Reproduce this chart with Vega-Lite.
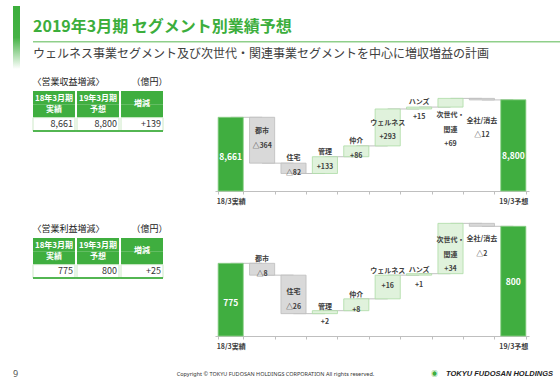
{
  "$schema": "https://vega.github.io/schema/vega-lite/v6.json",
  "background": "white",
  "padding": {"left": 13, "top": 0, "right": 0, "bottom": 0},
  "config": {
    "view": {"stroke": null},
    "font": "Noto Sans CJK JP",
    "title": {"font": "Noto Sans CJK JP"},
    "text": {"font": "Noto Sans CJK JP"}
  },
  "datasets": {
    "t1": [
      {"col": "c1", "h1": "18年3月期", "h2": "実績", "val": "8,661"},
      {"col": "c2", "h1": "19年3月期", "h2": "予想", "val": "8,800"},
      {"col": "c3", "mid": "増減", "val": "+139"}
    ],
    "t2": [
      {"col": "c1", "h1": "18年3月期", "h2": "実績", "val": "775"},
      {"col": "c2", "h1": "19年3月期", "h2": "予想", "val": "800"},
      {"col": "c3", "mid": "増減", "val": "+25"}
    ],
    "w1": [
      {"cat": "18/3実績", "kind": "total", "hi": 8661, "label": "8,661", "next": "都市", "level": 8661},
      {"cat": "都市", "kind": "down", "lo": 8297, "hi": 8661, "label": "都市\n△364", "next": "住宅", "level": 8297},
      {"cat": "住宅", "kind": "down", "lo": 8215, "hi": 8297, "label": "住宅\n△82", "next": "管理", "level": 8215},
      {"cat": "管理", "kind": "up", "lo": 8215, "hi": 8348, "label": "管理\n+133", "next": "仲介", "level": 8348},
      {"cat": "仲介", "kind": "up", "lo": 8348, "hi": 8434, "label": "仲介\n+86", "next": "ウェルネス", "level": 8434},
      {"cat": "ウェルネス", "kind": "up", "lo": 8434, "hi": 8727, "label": "ウェルネス\n+293", "next": "ハンズ", "level": 8727},
      {"cat": "ハンズ", "kind": "up", "lo": 8727, "hi": 8742, "label": "ハンズ\n+15", "next": "次世代・関連", "level": 8742},
      {"cat": "次世代・関連", "kind": "up", "lo": 8742, "hi": 8811, "label": "次世代・\n関連\n+69", "next": "全社/消去", "level": 8811},
      {"cat": "全社/消去", "kind": "down", "lo": 8799, "hi": 8811, "label": "全社/消去\n△12", "next": "19/3予想", "level": 8799},
      {"cat": "19/3予想", "kind": "total", "hi": 8800, "label": "8,800"}
    ],
    "w2": [
      {"cat": "18/3実績", "kind": "total", "hi": 775, "label": "775", "next": "都市", "level": 775},
      {"cat": "都市", "kind": "down", "lo": 767, "hi": 775, "label": "都市\n△8", "next": "住宅", "level": 767},
      {"cat": "住宅", "kind": "down", "lo": 741, "hi": 767, "label": "住宅\n△26", "next": "管理", "level": 741},
      {"cat": "管理", "kind": "up", "lo": 741, "hi": 743, "label": "管理\n+2", "next": "仲介", "level": 743},
      {"cat": "仲介", "kind": "up", "lo": 743, "hi": 751, "label": "仲介\n+8", "next": "ウェルネス", "level": 751},
      {"cat": "ウェルネス", "kind": "up", "lo": 751, "hi": 767, "label": "ウェルネス\n+16", "next": "ハンズ", "level": 767},
      {"cat": "ハンズ", "kind": "up", "lo": 767, "hi": 768, "label": "ハンズ\n+1", "next": "次世代・関連", "level": 768},
      {"cat": "次世代・関連", "kind": "up", "lo": 768, "hi": 802, "label": "次世代・\n関連\n+34", "next": "全社/消去", "level": 802},
      {"cat": "全社/消去", "kind": "down", "lo": 800, "hi": 802, "label": "全社/消去\n△2", "next": "19/3予想", "level": 800},
      {"cat": "19/3予想", "kind": "total", "hi": 800, "label": "800"}
    ]
  },
  "vconcat": [
    {
      "hconcat": [
        {
          "width": 7,
          "height": 63,
          "data": {"values": [{}]},
          "mark": {"type": "rect", "color": {"gradient": "linear", "x1": 0, "y1": 0, "x2": 0, "y2": 1, "stops": [{"offset": 0, "color": "#3cae3c"}, {"offset": 0.5, "color": "#45b245"}, {"offset": 1, "color": "#ffffff"}]}},
          "encoding": {"x": {"value": 0}, "x2": {"value": 7}, "y": {"value": 0}, "y2": {"value": 63}}
        },
        {
          "vconcat": [
            {
              "vconcat": [
                {
                  "width": 528,
                  "height": 1,
                  "title": {"text": "2019年3月期 セグメント別業績予想", "orient": "bottom", "anchor": "start", "fontSize": 16, "fontWeight": "bold", "color": "#3cae3c", "offset": 7},
                  "data": {"values": [{}]},
                  "mark": {"type": "text"},
                  "encoding": {"text": {"value": ""}}
                },
                {
                  "width": 528,
                  "height": 1.5,
                  "view": {"fill": "#8fcf8a", "stroke": null},
                  "title": {"text": "ウェルネス事業セグメント及び次世代・関連事業セグメントを中心に増収増益の計画", "orient": "bottom", "anchor": "start", "fontSize": 12, "fontWeight": "normal", "color": "#404040", "offset": 2},
                  "data": {"values": [{}]},
                  "mark": {"type": "text"},
                  "encoding": {"text": {"value": ""}}
                }
              ],
              "spacing": 0
            },
            {
              "hconcat": [
                {
                  "width": 130,
                  "height": 40,
                  "title": {"text": "〈営業収益増減〉　　　　（億円）", "anchor": "start", "fontSize": 9, "fontWeight": "normal", "color": "#222222", "offset": 4},
                  "data": {"name": "t1"},
                  "layer": [
                    {
                      "mark": {"type": "rect", "fill": "#3fae3f"},
                      "encoding": {
                        "x": {"field": "col", "type": "nominal", "sort": null, "scale": {"domain": ["c1", "c2", "c3"], "paddingInner": 0.046, "paddingOuter": 0}, "axis": null},
                        "y": {"datum": "h1", "type": "nominal", "scale": {"domain": ["h1", "h2", "v"], "paddingInner": 0, "paddingOuter": 0}, "axis": null}
                      }
                    },
                    {
                      "mark": {"type": "rect", "fill": "#3fae3f"},
                      "encoding": {
                        "x": {"field": "col", "type": "nominal", "sort": null},
                        "y": {"datum": "h2", "type": "nominal"}
                      }
                    },
                    {
                      "mark": {"type": "rect", "fill": "white", "stroke": "#cde9c8", "strokeWidth": 1},
                      "encoding": {
                        "x": {"field": "col", "type": "nominal", "sort": null},
                        "y": {"datum": "v", "type": "nominal"}
                      }
                    },
                    {
                      "transform": [{"filter": "isValid(datum.h1)"}],
                      "mark": {"type": "text", "color": "white", "fontSize": 8, "fontWeight": "bold", "baseline": "middle", "dy": 1},
                      "encoding": {
                        "x": {"field": "col", "type": "nominal", "sort": null},
                        "y": {"datum": "h1", "type": "nominal"},
                        "text": {"field": "h1"}
                      }
                    },
                    {
                      "transform": [{"filter": "isValid(datum.h2)"}],
                      "mark": {"type": "text", "color": "white", "fontSize": 8, "fontWeight": "bold", "baseline": "middle", "dy": -1},
                      "encoding": {
                        "x": {"field": "col", "type": "nominal", "sort": null},
                        "y": {"datum": "h2", "type": "nominal"},
                        "text": {"field": "h2"}
                      }
                    },
                    {
                      "transform": [{"filter": "isValid(datum.mid)"}],
                      "mark": {"type": "text", "color": "white", "fontSize": 8, "fontWeight": "bold", "baseline": "middle"},
                      "encoding": {
                        "x": {"field": "col", "type": "nominal", "sort": null},
                        "y": {"datum": "h2", "type": "nominal", "bandPosition": 0},
                        "text": {"field": "mid"}
                      }
                    },
                    {
                      "mark": {"type": "text", "color": "#333333", "fontSize": 9, "align": "right", "dx": -2, "baseline": "middle"},
                      "encoding": {
                        "x": {"field": "col", "type": "nominal", "sort": null, "bandPosition": 1},
                        "y": {"datum": "v", "type": "nominal"},
                        "text": {"field": "val"}
                      }
                    },
                    {
                      "mark": {"type": "rule", "color": "#3fae3f", "strokeWidth": 1.2},
                      "encoding": {"y": {"value": "height"}}
                    }
                  ]
                },
                {
                  "width": 314,
                  "height": 100,
                  "data": {"name": "w1"},
                  "encoding": {
                    "x": {"field": "cat", "type": "nominal", "sort": null,
                      "scale": {"type": "band", "domain": ["18/3実績", "都市", "住宅", "管理", "仲介", "ウェルネス", "ハンズ", "次世代・関連", "全社/消去", "19/3予想"], "paddingInner": 0.2, "paddingOuter": 0.1},
                      "axis": {"title": null, "labelAngle": 0, "labelExpr": "datum.value == '18/3実績' || datum.value == '19/3予想' ? datum.value : ''", "labelFontSize": 7, "labelFontWeight": "bold", "labelColor": "#404040", "labelPadding": 3, "labelOverlap": false, "tickBand": "extent", "tickSize": 3, "tickColor": "#bfbfbf", "domainColor": "#bfbfbf", "grid": false}
                    }
                  },
                  "layer": [
                    {
                      "transform": [{"filter": "isValid(datum.next)"}],
                      "mark": {"type": "rule", "color": "#a6a6a6", "strokeWidth": 0.7},
                      "encoding": {
                        "x2": {"field": "next"},
                        "y": {"field": "level", "type": "quantitative", "scale": {"domain": [8076, 8869.7], "zero": false, "nice": false}, "axis": null}
                      }
                    },
                    {
                      "transform": [{"filter": "datum.kind == 'total'"}],
                      "mark": {"type": "bar", "fill": "#40ae40", "stroke": "#8ccf86", "strokeWidth": 0.8},
                      "encoding": {
                        "y": {"field": "hi", "type": "quantitative", "scale": {"domain": [8076, 8869.7], "zero": false, "nice": false}, "axis": null},
                        "y2": {"datum": 8076}
                      }
                    },
                    {
                      "transform": [{"filter": "datum.kind != 'total'"}],
                      "mark": {"type": "bar", "strokeWidth": 0.8},
                      "encoding": {
                        "y": {"field": "lo", "type": "quantitative", "scale": {"domain": [8076, 8869.7], "zero": false, "nice": false}, "axis": null},
                        "y2": {"field": "hi"},
                        "fill": {"field": "kind", "type": "nominal", "scale": {"domain": ["up", "down"], "range": ["#e0f2dc", "#d9d9d9"]}, "legend": null},
                        "stroke": {"field": "kind", "type": "nominal", "scale": {"domain": ["up", "down"], "range": ["#acdca5", "#bdbdbd"]}, "legend": null}
                      }
                    },
                    {
                      "transform": [{"filter": {"field": "cat", "oneOf": ["住宅", "管理", "仲介", "ハンズ"]}}],
                      "mark": {"type": "text", "fontSize": 7, "fontWeight": "bold", "color": "#404040", "lineBreak": "\n", "lineHeight": 15, "baseline": "middle", "dy": -5},
                      "encoding": {
                        "y": {"field": "hi", "type": "quantitative", "scale": {"domain": [8076, 8869.7], "zero": false, "nice": false}, "axis": null},
                        "text": {"field": "label"}
                      }
                    },
                    {
                      "transform": [{"filter": {"field": "cat", "oneOf": ["都市", "ウェルネス"]}}],
                      "mark": {"type": "text", "fontSize": 7, "fontWeight": "bold", "color": "#404040", "lineBreak": "\n", "lineHeight": 14.5, "baseline": "top", "dy": 10},
                      "encoding": {
                        "y": {"field": "hi", "type": "quantitative", "scale": {"domain": [8076, 8869.7], "zero": false, "nice": false}, "axis": null},
                        "text": {"field": "label"}
                      }
                    },
                    {
                      "transform": [{"filter": {"field": "cat", "oneOf": ["次世代・関連"]}}],
                      "mark": {"type": "text", "fontSize": 7, "fontWeight": "bold", "color": "#404040", "lineBreak": "\n", "lineHeight": 14.5, "baseline": "top", "dy": 4},
                      "encoding": {
                        "y": {"field": "lo", "type": "quantitative", "scale": {"domain": [8076, 8869.7], "zero": false, "nice": false}, "axis": null},
                        "text": {"field": "label"}
                      }
                    },
                    {
                      "transform": [{"filter": {"field": "cat", "oneOf": ["全社/消去"]}}],
                      "mark": {"type": "text", "fontSize": 7, "fontWeight": "bold", "color": "#404040", "lineBreak": "\n", "lineHeight": 14.5, "baseline": "top", "dy": 17},
                      "encoding": {
                        "y": {"field": "lo", "type": "quantitative", "scale": {"domain": [8076, 8869.7], "zero": false, "nice": false}, "axis": null},
                        "text": {"field": "label"}
                      }
                    },
                    {
                      "transform": [{"filter": "datum.cat == '18/3実績'"}],
                      "mark": {"type": "text", "fontSize": 8.5, "fontWeight": "bold", "color": "white", "baseline": "middle", "dy": 40},
                      "encoding": {
                        "y": {"field": "hi", "type": "quantitative", "scale": {"domain": [8076, 8869.7], "zero": false, "nice": false}, "axis": null},
                        "text": {"field": "label"}
                      }
                    },
                    {
                      "transform": [{"filter": "datum.cat == '19/3予想'"}],
                      "mark": {"type": "text", "fontSize": 8.5, "fontWeight": "bold", "color": "white", "baseline": "middle", "dy": 56},
                      "encoding": {
                        "y": {"field": "hi", "type": "quantitative", "scale": {"domain": [8076, 8869.7], "zero": false, "nice": false}, "axis": null},
                        "text": {"field": "label"}
                      }
                    }
                  ]
                }
              ],
              "spacing": 47,
              "resolve": {"scale": {"x": "independent", "y": "independent"}}
            },
            {
              "hconcat": [
                {
                  "width": 130,
                  "height": 40,
                  "title": {"text": "〈営業利益増減〉　　　　（億円）", "anchor": "start", "fontSize": 9, "fontWeight": "normal", "color": "#222222", "offset": 4},
                  "data": {"name": "t2"},
                  "layer": [
                    {
                      "mark": {"type": "rect", "fill": "#3fae3f"},
                      "encoding": {
                        "x": {"field": "col", "type": "nominal", "sort": null, "scale": {"domain": ["c1", "c2", "c3"], "paddingInner": 0.046, "paddingOuter": 0}, "axis": null},
                        "y": {"datum": "h1", "type": "nominal", "scale": {"domain": ["h1", "h2", "v"], "paddingInner": 0, "paddingOuter": 0}, "axis": null}
                      }
                    },
                    {
                      "mark": {"type": "rect", "fill": "#3fae3f"},
                      "encoding": {
                        "x": {"field": "col", "type": "nominal", "sort": null},
                        "y": {"datum": "h2", "type": "nominal"}
                      }
                    },
                    {
                      "mark": {"type": "rect", "fill": "white", "stroke": "#cde9c8", "strokeWidth": 1},
                      "encoding": {
                        "x": {"field": "col", "type": "nominal", "sort": null},
                        "y": {"datum": "v", "type": "nominal"}
                      }
                    },
                    {
                      "transform": [{"filter": "isValid(datum.h1)"}],
                      "mark": {"type": "text", "color": "white", "fontSize": 8, "fontWeight": "bold", "baseline": "middle", "dy": 1},
                      "encoding": {
                        "x": {"field": "col", "type": "nominal", "sort": null},
                        "y": {"datum": "h1", "type": "nominal"},
                        "text": {"field": "h1"}
                      }
                    },
                    {
                      "transform": [{"filter": "isValid(datum.h2)"}],
                      "mark": {"type": "text", "color": "white", "fontSize": 8, "fontWeight": "bold", "baseline": "middle", "dy": -1},
                      "encoding": {
                        "x": {"field": "col", "type": "nominal", "sort": null},
                        "y": {"datum": "h2", "type": "nominal"},
                        "text": {"field": "h2"}
                      }
                    },
                    {
                      "transform": [{"filter": "isValid(datum.mid)"}],
                      "mark": {"type": "text", "color": "white", "fontSize": 8, "fontWeight": "bold", "baseline": "middle"},
                      "encoding": {
                        "x": {"field": "col", "type": "nominal", "sort": null},
                        "y": {"datum": "h2", "type": "nominal", "bandPosition": 0},
                        "text": {"field": "mid"}
                      }
                    },
                    {
                      "mark": {"type": "text", "color": "#333333", "fontSize": 9, "align": "right", "dx": -2, "baseline": "middle"},
                      "encoding": {
                        "x": {"field": "col", "type": "nominal", "sort": null, "bandPosition": 1},
                        "y": {"datum": "v", "type": "nominal"},
                        "text": {"field": "val"}
                      }
                    },
                    {
                      "mark": {"type": "rule", "color": "#3fae3f", "strokeWidth": 1.2},
                      "encoding": {"y": {"value": "height"}}
                    }
                  ]
                },
                {
                  "width": 314,
                  "height": 98,
                  "data": {"name": "w2"},
                  "encoding": {
                    "x": {"field": "cat", "type": "nominal", "sort": null,
                      "scale": {"type": "band", "domain": ["18/3実績", "都市", "住宅", "管理", "仲介", "ウェルネス", "ハンズ", "次世代・関連", "全社/消去", "19/3予想"], "paddingInner": 0.2, "paddingOuter": 0.1},
                      "axis": {"title": null, "labelAngle": 0, "labelExpr": "datum.value == '18/3実績' || datum.value == '19/3予想' ? datum.value : ''", "labelFontSize": 7, "labelFontWeight": "bold", "labelColor": "#404040", "labelPadding": 3, "labelOverlap": false, "tickBand": "extent", "tickSize": 3, "tickColor": "#bfbfbf", "domainColor": "#bfbfbf", "grid": false}
                    }
                  },
                  "layer": [
                    {
                      "transform": [{"filter": "isValid(datum.next)"}],
                      "mark": {"type": "rule", "color": "#a6a6a6", "strokeWidth": 0.7},
                      "encoding": {
                        "x2": {"field": "next"},
                        "y": {"field": "level", "type": "quantitative", "scale": {"domain": [725.9, 792.1], "zero": false, "nice": false}, "axis": null}
                      }
                    },
                    {
                      "transform": [{"filter": "datum.kind == 'total'"}],
                      "mark": {"type": "bar", "fill": "#40ae40", "stroke": "#8ccf86", "strokeWidth": 0.8},
                      "encoding": {
                        "y": {"field": "hi", "type": "quantitative", "scale": {"domain": [725.9, 792.1], "zero": false, "nice": false}, "axis": null},
                        "y2": {"datum": 725.9}
                      }
                    },
                    {
                      "transform": [{"filter": "datum.kind != 'total'"}],
                      "mark": {"type": "bar", "strokeWidth": 0.8},
                      "encoding": {
                        "y": {"field": "lo", "type": "quantitative", "scale": {"domain": [725.9, 792.1], "zero": false, "nice": false}, "axis": null},
                        "y2": {"field": "hi"},
                        "fill": {"field": "kind", "type": "nominal", "scale": {"domain": ["up", "down"], "range": ["#e0f2dc", "#d9d9d9"]}, "legend": null},
                        "stroke": {"field": "kind", "type": "nominal", "scale": {"domain": ["up", "down"], "range": ["#acdca5", "#bdbdbd"]}, "legend": null}
                      }
                    },
                    {
                      "transform": [{"filter": {"field": "cat", "oneOf": ["都市", "管理", "仲介", "ウェルネス", "ハンズ"]}}],
                      "mark": {"type": "text", "fontSize": 7, "fontWeight": "bold", "color": "#404040", "lineBreak": "\n", "lineHeight": 15, "baseline": "middle", "dy": -4},
                      "encoding": {
                        "y": {"field": "hi", "type": "quantitative", "scale": {"domain": [725.9, 792.1], "zero": false, "nice": false}, "axis": null},
                        "text": {"field": "label"}
                      }
                    },
                    {
                      "transform": [{"filter": {"field": "cat", "oneOf": ["住宅", "次世代・関連"]}}],
                      "mark": {"type": "text", "fontSize": 7, "fontWeight": "bold", "color": "#404040", "lineBreak": "\n", "lineHeight": 14.5, "baseline": "top", "dy": 13},
                      "encoding": {
                        "y": {"field": "hi", "type": "quantitative", "scale": {"domain": [725.9, 792.1], "zero": false, "nice": false}, "axis": null},
                        "text": {"field": "label"}
                      }
                    },
                    {
                      "transform": [{"filter": {"field": "cat", "oneOf": ["全社/消去"]}}],
                      "mark": {"type": "text", "fontSize": 7, "fontWeight": "bold", "color": "#404040", "lineBreak": "\n", "lineHeight": 14.5, "baseline": "top", "dy": 9},
                      "encoding": {
                        "y": {"field": "lo", "type": "quantitative", "scale": {"domain": [725.9, 792.1], "zero": false, "nice": false}, "axis": null},
                        "text": {"field": "label"}
                      }
                    },
                    {
                      "transform": [{"filter": "datum.cat == '18/3実績'"}],
                      "mark": {"type": "text", "fontSize": 8.5, "fontWeight": "bold", "color": "white", "baseline": "middle", "dy": 40},
                      "encoding": {
                        "y": {"field": "hi", "type": "quantitative", "scale": {"domain": [725.9, 792.1], "zero": false, "nice": false}, "axis": null},
                        "text": {"field": "label"}
                      }
                    },
                    {
                      "transform": [{"filter": "datum.cat == '19/3予想'"}],
                      "mark": {"type": "text", "fontSize": 8.5, "fontWeight": "bold", "color": "white", "baseline": "middle", "dy": 56},
                      "encoding": {
                        "y": {"field": "hi", "type": "quantitative", "scale": {"domain": [725.9, 792.1], "zero": false, "nice": false}, "axis": null},
                        "text": {"field": "label"}
                      }
                    }
                  ]
                }
              ],
              "spacing": 47,
              "resolve": {"scale": {"x": "independent", "y": "independent"}}
            }
          ],
          "spacing": 18,
          "resolve": {"scale": {"x": "independent", "y": "independent"}}
        }
      ],
      "spacing": 12,
      "resolve": {"scale": {"x": "independent", "y": "independent"}}
    },
    {
      "width": 547,
      "height": 10,
      "data": {"values": [
        {"part": "page", "txt": "9"},
        {"part": "copy", "txt": "Copyright © TOKYU FUDOSAN HOLDINGS CORPORATION All rights reserved."},
        {"part": "logo", "txt": "TOKYU FUDOSAN HOLDINGS"}
      ]},
      "encoding": {
        "x": {"field": "part", "type": "nominal", "sort": null, "scale": {"type": "point", "domain": ["page", "copy", "logo"], "padding": 0}, "axis": null}
      },
      "layer": [
        {
          "transform": [{"filter": "datum.part == 'page'"}],
          "mark": {"type": "text", "align": "left", "fontSize": 9, "color": "#555555", "font": "Noto Sans"},
          "encoding": {"text": {"field": "txt"}}
        },
        {
          "transform": [{"filter": "datum.part == 'copy'"}],
          "mark": {"type": "text", "align": "center", "fontSize": 5.5, "color": "#333333", "dx": -11, "font": "Noto Sans"},
          "encoding": {"text": {"field": "txt"}}
        },
        {
          "transform": [{"filter": "datum.part == 'logo'"}],
          "mark": {"type": "text", "align": "right", "fontSize": 7.5, "fontStyle": "italic", "fontWeight": "bold", "color": "#222222", "dx": -7, "font": "Liberation Sans"},
          "encoding": {"text": {"field": "txt"}}
        },
        {
          "transform": [{"filter": "datum.part == 'logo'"}],
          "mark": {"type": "text", "align": "right", "fontSize": 7, "color": "#3fae3f", "dx": -122},
          "encoding": {"text": {"value": "◉"}}
        }
      ]
    }
  ],
  "spacing": 20,
  "resolve": {"scale": {"x": "independent", "y": "independent"}}
}
